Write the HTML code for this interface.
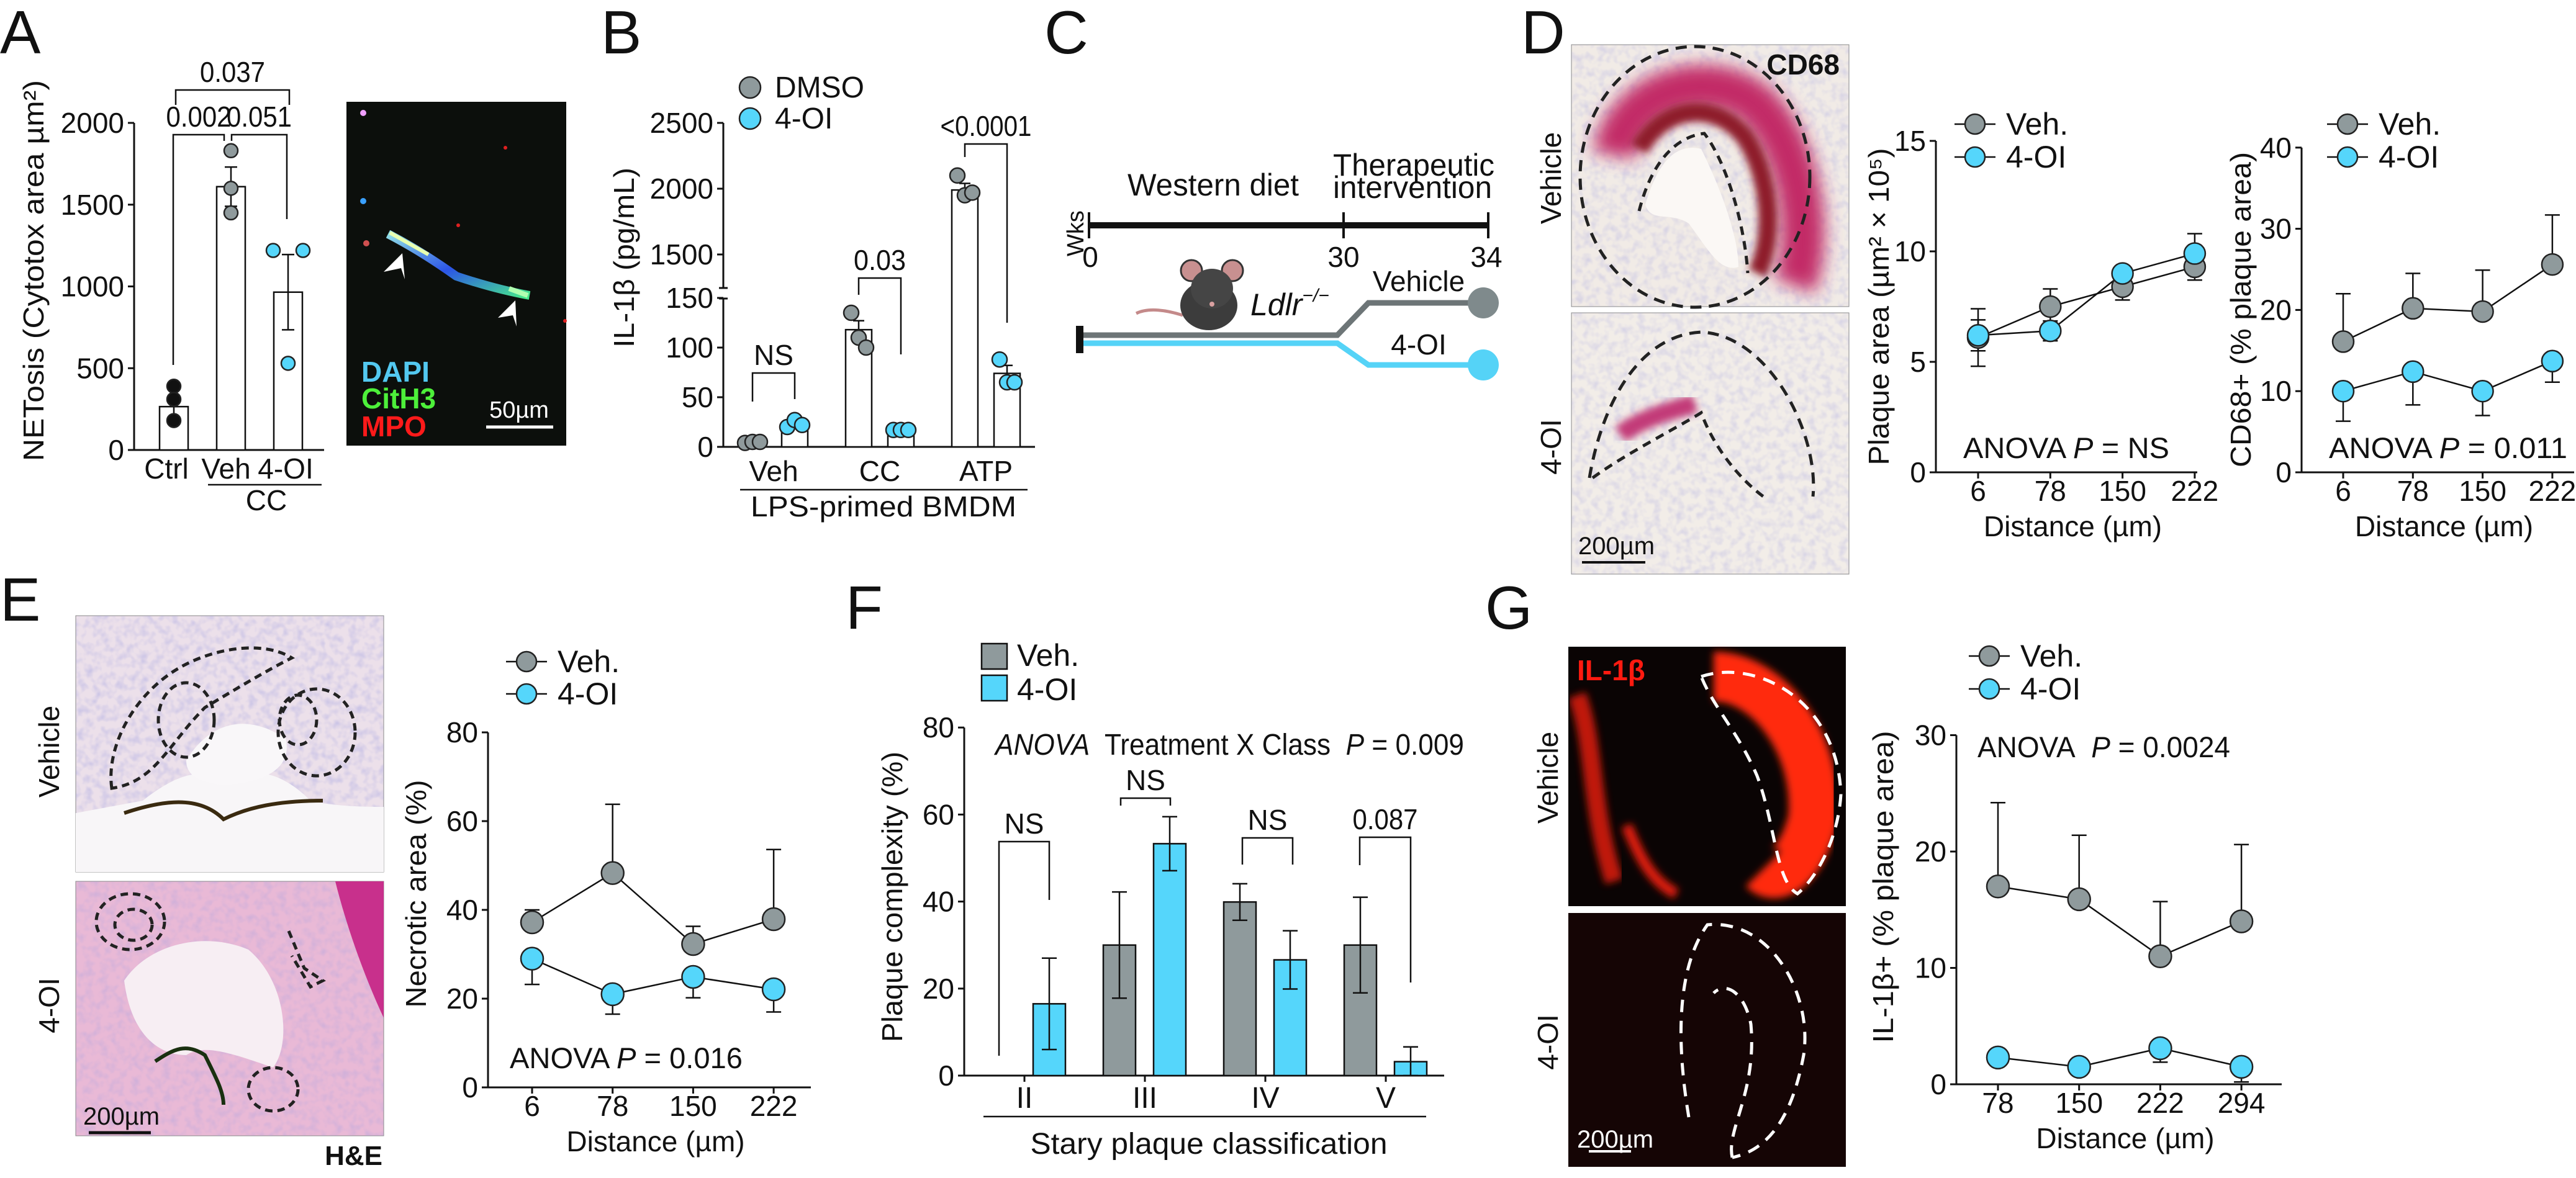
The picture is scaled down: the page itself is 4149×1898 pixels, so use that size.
<!DOCTYPE html>
<html><head><meta charset="utf-8">
<style>
html,body{margin:0;padding:0;background:#fff;}
svg{display:block;}
text{font-family:"Liberation Sans",sans-serif;fill:#111;}
.b{font-weight:bold;}
</style></head>
<body>
<svg id="fig" xmlns="http://www.w3.org/2000/svg" width="4149" height="1898" viewBox="0 0 4149 1898">
<defs>
<filter id="blur6" x="-20%" y="-20%" width="140%" height="140%"><feGaussianBlur stdDeviation="6"/></filter>
<filter id="blur14" x="-30%" y="-30%" width="160%" height="160%"><feGaussianBlur stdDeviation="14"/></filter>
<filter id="speck" x="0" y="0" width="100%" height="100%"><feTurbulence type="fractalNoise" baseFrequency="0.08" numOctaves="2" seed="3"/><feColorMatrix values="0 0 0 0 0.35  0 0 0 0 0.35  0 0 0 0 0.75  0 0 0 -2.2 1.3"/></filter>
<linearGradient id="net" x1="0" y1="0" x2="1" y2="1"><stop offset="0" stop-color="#9ff6ff"/><stop offset="0.5" stop-color="#2f5cff"/><stop offset="1" stop-color="#4dff9a"/></linearGradient>
</defs>

<text x="0" y="86" font-size="98">A</text>
<text x="968" y="86" font-size="98">B</text>
<text x="1682" y="86" font-size="98">C</text>
<text x="2450" y="86" font-size="98">D</text>
<text x="0" y="1000" font-size="98">E</text>
<text x="1362" y="1013" font-size="98">F</text>
<text x="2392" y="1013" font-size="98">G</text>

<g>
<rect x="558" y="164" width="354" height="554" fill="#0c0f0c"/>
<circle cx="585" cy="182" r="5" fill="#f0a0ff"/><circle cx="814" cy="238" r="3" fill="#e02020"/><circle cx="738" cy="363" r="3" fill="#e02020"/>
<circle cx="585" cy="324" r="5" fill="#3aa0ff"/><circle cx="590" cy="392" r="5" fill="#d05050"/><circle cx="910" cy="517" r="3" fill="#e02020"/>
<path d="M625,377 C660,395 700,420 735,445 C780,460 820,470 853,476" stroke="url(#net)" stroke-width="14" fill="none" opacity="0.9"/>
<path d="M628,375 L690,410" stroke="#e8ffb0" stroke-width="6"/><path d="M820,465 L850,476" stroke="#b0ffb0" stroke-width="8"/>
<path d="M648,408 L618,438 L646,432 L652,450 Z" fill="#fff"/><path d="M830,484 L802,512 L826,508 L832,526 Z" fill="#fff"/>
<text x="582" y="615" font-size="46" class="b" style="fill:#53c8f0">DAPI</text>
<text x="582" y="658" font-size="46" class="b" style="fill:#4df03a">CitH3</text>
<text x="582" y="703" font-size="46" class="b" style="fill:#ff1a1a">MPO</text>
<line x1="783" y1="688" x2="891" y2="688" stroke="#fff" stroke-width="5"/>
<text x="836" y="673" font-size="38" text-anchor="middle" style="fill:#fff">50µm</text>
</g>

<g>
<text x="1954" y="315" font-size="50" text-anchor="middle" textLength="276" lengthAdjust="spacingAndGlyphs">Western diet</text>
<text x="2277" y="283" font-size="50" text-anchor="middle" textLength="260" lengthAdjust="spacingAndGlyphs">Therapeutic</text>
<text x="2275" y="319" font-size="50" text-anchor="middle" textLength="256" lengthAdjust="spacingAndGlyphs">intervention</text>
<line x1="1754" y1="363" x2="2397" y2="363" stroke="#111" stroke-width="10"/>
<line x1="1754" y1="342" x2="1754" y2="384" stroke="#111" stroke-width="4"/>
<line x1="2164" y1="342" x2="2164" y2="384" stroke="#111" stroke-width="4"/>
<line x1="2397" y1="342" x2="2397" y2="384" stroke="#111" stroke-width="4"/>
<text x="1756" y="430" font-size="46" text-anchor="middle">0</text>
<text x="2164" y="430" font-size="46" text-anchor="middle">30</text>
<text x="2394" y="430" font-size="46" text-anchor="middle">34</text>
<text transform="translate(1733,376) rotate(-90)" font-size="38" text-anchor="middle" dominant-baseline="central">Wks</text>
<g>
<path d="M1905,508 C1880,500 1850,495 1830,505" stroke="#c48a8a" stroke-width="5" fill="none"/>
<ellipse cx="1947" cy="492" rx="46" ry="40" fill="#3c3c3c"/>
<circle cx="1919" cy="436" r="17" fill="#c89090" stroke="#333" stroke-width="3"/>
<circle cx="1985" cy="436" r="17" fill="#c89090" stroke="#333" stroke-width="3"/>
<ellipse cx="1952" cy="465" rx="34" ry="32" fill="#454545"/>
<circle cx="1952" cy="490" r="4" fill="#d9a0a0"/>
</g>
<text x="2014" y="508" font-size="50" font-style="italic">Ldlr<tspan font-size="30" dy="-22">−/−</tspan></text>
<path d="M1739,540 L2154,540 L2204,488 L2389,488" stroke="#6d7577" stroke-width="9" fill="none"/>
<circle cx="2389" cy="488" r="25" fill="#7f8a8c"/>
<path d="M1739,553 L2154,553 L2204,588 L2389,588" stroke="#55d3f7" stroke-width="9" fill="none"/>
<circle cx="2389" cy="588" r="25" fill="#55d3f7"/>
<rect x="1733" y="525" width="12" height="44" fill="#111"/>
<text x="2285" y="469" font-size="46" text-anchor="middle">Vehicle</text>
<text x="2285" y="571" font-size="46" text-anchor="middle">4-OI</text>
</g>

<g>
<rect x="2531" y="72" width="447" height="422" fill="#f1ebe6" stroke="#888" stroke-width="1"/>
<rect x="2531" y="72" width="447" height="422" filter="url(#speck)" opacity="0.3"/>
<path d="M2600,250 C2620,140 2760,110 2830,170 C2900,240 2920,380 2890,460" stroke="#c22a66" stroke-width="70" fill="none" filter="url(#blur14)"/>
<path d="M2640,240 C2680,170 2760,160 2810,220 C2850,280 2860,380 2830,440" stroke="#8e1a2c" stroke-width="30" fill="none" filter="url(#blur6)"/>
<path d="M2650,330 C2670,260 2700,230 2740,240 C2770,300 2800,380 2800,430 C2770,440 2750,400 2720,360 C2690,340 2660,360 2650,330Z" fill="#fbf8f5"/>
<ellipse cx="2730" cy="285" rx="185" ry="210" fill="none" stroke="#222" stroke-width="5" stroke-dasharray="18 12"/>
<path d="M2640,340 C2660,260 2700,220 2745,215 C2780,260 2810,360 2815,440" fill="none" stroke="#222" stroke-width="5" stroke-dasharray="14 10"/>
<text x="2963" y="120" font-size="46" class="b" text-anchor="end">CD68</text>
</g>
<g>
<rect x="2531" y="504" width="447" height="421" fill="#f2ede8" stroke="#888" stroke-width="1"/>
<rect x="2531" y="504" width="447" height="421" filter="url(#speck)" opacity="0.3"/>
<path d="M2610,700 C2650,670 2700,660 2730,650" stroke="#c23a78" stroke-width="30" fill="none" filter="url(#blur6)"/>
<path d="M2560,770 C2580,650 2640,540 2740,535 C2850,540 2930,700 2920,800" fill="none" stroke="#222" stroke-width="5" stroke-dasharray="18 12"/>
<path d="M2565,770 C2620,730 2700,690 2740,665 C2760,720 2800,770 2840,800" fill="none" stroke="#222" stroke-width="5" stroke-dasharray="14 10"/>
<line x1="2548" y1="906" x2="2650" y2="906" stroke="#111" stroke-width="4"/>
<text x="2542" y="893" font-size="40">200µm</text>
</g>
<text transform="translate(2498,287) rotate(-90)" font-size="46" text-anchor="middle" dominant-baseline="central">Vehicle</text>
<text transform="translate(2498,720) rotate(-90)" font-size="46" text-anchor="middle" dominant-baseline="central">4-OI</text>

<g>
<rect x="122" y="992" width="496" height="413" fill="#ece0ea" stroke="#888" stroke-width="1"/>
<rect x="122" y="992" width="496" height="413" filter="url(#speck)" opacity="0.4"/>
<path d="M230,1290 C280,1250 330,1230 360,1265 C390,1240 440,1230 500,1290 C540,1300 600,1300 618,1300 L618,1405 L122,1405 L122,1310 Z" fill="#f8f6f8"/>
<path d="M300,1225 C340,1160 400,1150 460,1190 C470,1230 440,1260 360,1265 C320,1260 300,1250 300,1225Z" fill="#f9f7f9"/>
<path d="M180,1270 C170,1200 220,1110 300,1070 C360,1040 430,1035 470,1060 C430,1080 380,1110 330,1140 C270,1200 250,1260 180,1270Z" fill="none" stroke="#222" stroke-width="5" stroke-dasharray="12 8"/>
<ellipse cx="300" cy="1160" rx="45" ry="60" fill="none" stroke="#222" stroke-width="5" stroke-dasharray="12 8"/>
<ellipse cx="510" cy="1180" rx="62" ry="70" fill="none" stroke="#222" stroke-width="5" stroke-dasharray="12 8"/>
<ellipse cx="480" cy="1160" rx="30" ry="40" fill="none" stroke="#222" stroke-width="5" stroke-dasharray="12 8"/>
<path d="M200,1310 C260,1290 320,1280 360,1320 C400,1300 450,1290 520,1290" stroke="#3a2a10" stroke-width="6" fill="none"/>
</g>
<g>
<rect x="122" y="1420" width="496" height="410" fill="#e9b9d6" stroke="#888" stroke-width="1"/>
<rect x="122" y="1420" width="496" height="410" filter="url(#speck)" opacity="0.3"/>
<path d="M540,1420 L618,1420 L618,1640 C590,1580 560,1500 540,1420Z" fill="#c8308c"/>
<path d="M200,1580 C240,1520 330,1500 400,1530 C460,1580 470,1680 440,1720 C380,1700 330,1680 300,1700 C250,1700 210,1660 200,1580Z" fill="#f7eef3"/>
<path d="M250,1710 C280,1690 300,1680 330,1700 C350,1740 360,1760 360,1780" stroke="#1a3010" stroke-width="6" fill="none"/>
<ellipse cx="210" cy="1485" rx="55" ry="45" fill="none" stroke="#222" stroke-width="5" stroke-dasharray="12 8"/>
<ellipse cx="215" cy="1490" rx="30" ry="25" fill="none" stroke="#222" stroke-width="5" stroke-dasharray="12 8"/>
<path d="M465,1500 L490,1560 L520,1580 L500,1590 L470,1540" fill="none" stroke="#222" stroke-width="5" stroke-dasharray="12 8"/>
<ellipse cx="440" cy="1755" rx="40" ry="35" fill="none" stroke="#222" stroke-width="5" stroke-dasharray="12 8"/>
<line x1="143" y1="1825" x2="243" y2="1825" stroke="#111" stroke-width="5"/>
<text x="134" y="1812" font-size="40">200µm</text>
</g>
<text x="616" y="1877" font-size="44" class="b" text-anchor="end">H&amp;E</text>
<text transform="translate(79,1211) rotate(-90)" font-size="46" text-anchor="middle" dominant-baseline="central">Vehicle</text>
<text transform="translate(79,1620) rotate(-90)" font-size="46" text-anchor="middle" dominant-baseline="central">4-OI</text>

<g>
<rect x="2526" y="1042" width="447" height="418" fill="#0a0404"/>
<path d="M2760,1090 C2850,1090 2930,1200 2920,1320 C2900,1400 2860,1420 2840,1400" stroke="#ff2a10" stroke-width="80" fill="none" filter="url(#blur6)"/>
<path d="M2540,1120 C2570,1200 2560,1300 2600,1420" stroke="#e01e0e" stroke-width="30" fill="none" filter="url(#blur6)" opacity="0.85"/>
<path d="M2620,1330 C2640,1380 2660,1420 2700,1440" stroke="#e01e0e" stroke-width="18" fill="none" filter="url(#blur6)"/>
<path d="M2740,1090 C2830,1060 2960,1130 2965,1280 C2960,1360 2920,1420 2895,1440 C2860,1420 2860,1330 2830,1250 C2800,1180 2760,1140 2740,1090Z" fill="none" stroke="#fff" stroke-width="5" stroke-dasharray="20 14"/>
<text x="2540" y="1096" font-size="46" class="b" style="fill:#ff1a10">IL-1β</text>
</g>
<g>
<rect x="2526" y="1471" width="447" height="409" fill="#150505"/>
<path d="M2720,1800 C2700,1680 2700,1560 2750,1490 C2850,1480 2920,1600 2905,1700 C2890,1780 2860,1850 2790,1865" fill="none" stroke="#fff" stroke-width="5" stroke-dasharray="20 14"/>
<path d="M2790,1865 C2780,1820 2830,1760 2820,1650 C2810,1600 2780,1580 2760,1600" fill="none" stroke="#fff" stroke-width="5" stroke-dasharray="20 14"/>
<line x1="2559" y1="1855" x2="2627" y2="1855" stroke="#fff" stroke-width="4"/>
<text x="2540" y="1849" font-size="40" style="fill:#fff">200µm</text>
</g>
<text transform="translate(2493,1253) rotate(-90)" font-size="46" text-anchor="middle" dominant-baseline="central">Vehicle</text>
<text transform="translate(2493,1679) rotate(-90)" font-size="46" text-anchor="middle" dominant-baseline="central">4-OI</text>
</svg>

<script>
const NS='http://www.w3.org/2000/svg';
const svg=document.getElementById('fig');
const GRAY='#8f9a9c', CYAN='#55d6fb';

// ---- Panel A data
const aCats=['Ctrl','Veh','4-OI'];
const aMeans=[265,1610,965];
const aSem=[65,120,230];
const aPts=[[390,310,180],[1830,1600,1450],[1220,1220,530]];
const aTicks=[0,500,1000,1500,2000];
// ---- Panel B data
const bCats=['Veh','CC','ATP'];
const bDmso=[5,118,1990];
const bDmsoSem=[1,9,50];
const bDmsoPts=[[4,5,5],[135,110,100],[2100,1950,1970]];
const bOi=[22,17,74];
const bOiSem=[2,1,8];
const bOiPts=[[20,27,22],[17,17,17],[88,65,65]];
const bTicksLow=[0,50,100,150];
const bTicksHigh=[1500,2000,2500];
// ---- Panel D data
const distD=['6','78','150','222'];
const d1Veh=[6.1,7.5,8.4,9.3];
const d1VehErr=[1.3,0.8,0.6,0.6];
const d1Oi=[6.2,6.4,9.0,9.9];
const d1OiErr=[0.7,0.45,0.3,0.9];
const d1Ticks=[0,5,10,15];
const d2Veh=[16.1,20.2,19.8,25.6];
const d2VehErr=[5.9,4.3,5.1,6.1];
const d2Oi=[10.0,12.4,10.0,13.7];
const d2OiErr=[3.7,4.1,3.0,2.6];
const d2Ticks=[0,10,20,30,40];
// ---- Panel E data
const distE=['6','78','150','222'];
const eVeh=[37.2,48.3,32.3,37.9];
const eVehErr=[2.8,15.5,4.0,15.7];
const eOi=[29.0,21.0,24.9,22.1];
const eOiErr=[5.8,4.5,4.7,5.1];
const eTicks=[0,20,40,60,80];
// ---- Panel F data
const fCats=['II','III','IV','V'];
const fVeh=[0,30,39.9,30];
const fVehErr=[0,12.2,4.2,11];
const fOi=[16.5,53.3,26.6,3.2];
const fOiErr=[10.5,6.2,6.7,3.4];
const fTicks=[0,20,40,60,80];
const fSig=['NS','NS','NS','0.087'];
// ---- Panel G data
const distG=['78','150','222','294'];
const gVeh=[17.0,15.9,11.0,14.0];
const gVehErr=[7.2,5.5,4.7,6.6];
const gOi=[2.3,1.5,3.1,1.5];
const gOiErr=[0.3,0.3,1.2,1.3];
const gTicks=[0,10,20,30];

function mk(tag,attrs,txt){const e=document.createElementNS(NS,tag);for(const k in attrs)e.setAttribute(k,attrs[k]);if(txt!==undefined)e.textContent=txt;svg.appendChild(e);return e;}
function ln(x1,y1,x2,y2,w,name){const e=mk('line',{x1:x1,y1:y1,x2:x2,y2:y2,stroke:'#111','stroke-width':w||3});


return e;}
function tx(x,y,s,size,anchor,name,extra){const a={x:x,y:y,'font-size':size||46,'text-anchor':anchor||'middle'};if(extra)for(const k in extra)a[k]=extra[k];const e=mk('text',a,s);


return e;}
function ytitle(cx,cy,s,len,name){const e=mk('text',{transform:'translate('+cx+','+cy+') rotate(-90)','font-size':46,'text-anchor':'middle','dominant-baseline':'central',textLength:len,lengthAdjust:'spacingAndGlyphs'},s);


return e;}
function dot(cx,cy,r,fill,name){const e=mk('circle',{cx:cx,cy:cy,r:r,fill:fill,stroke:'#222','stroke-width':2.5});


return e;}
function errbar(x,y1,y2,cap,name){ln(x,y1,x,y2,2.5,name);ln(x-cap,y2,x+cap,y2,2.5,name+'-cap');}
function yaxis(x,yTop,yBot,ticks,yf,name){ln(x,yTop,x,yBot,3,name);ticks.forEach(t=>{ln(x-10,yf(t),x,yf(t),3,name+'-tick');tx(x-16,yf(t)+16,String(t),46,'end',name+'-tick-label');});}
function bracket(x1,x2,yTop,y1,y2,label,name){const p=mk('path',{d:'M'+x1+','+y1+' L'+x1+','+yTop+' L'+x2+','+yTop+' L'+x2+','+y2,fill:'none',stroke:'#111','stroke-width':2.5});


const ex=label.length>=4?{textLength:label.length*21,lengthAdjust:'spacingAndGlyphs'}:{};
tx((x1+x2)/2,yTop-13,label,46,'middle',name+'-label',ex);}

// ================= Panel A
const yA=v=>725-v*0.2635;
const xA=i=>280+i*92;
yaxis(216,yA(2000),725,aTicks,yA,'a-y-axis');
ln(216,725,522,725,3,'a-x-axis');
const aColors=['#111',GRAY,CYAN];
aCats.forEach((c,i)=>{
  const r=mk('rect',{x:xA(i)-23,y:yA(aMeans[i]),width:46,height:725-yA(aMeans[i]),fill:'#fff',stroke:'#111','stroke-width':2.5});
  
  
  errbar(xA(i),yA(aMeans[i]),yA(aMeans[i]+aSem[i]),10,'a-error-'+c.toLowerCase());
  errbar(xA(i),yA(aMeans[i]),yA(aMeans[i]-aSem[i]),10,'a-error-low-'+c.toLowerCase());
  aPts[i].forEach((v,j)=>{const off=i===2?[-24,24,0][j]:0;dot(xA(i)+off,yA(v),11,aColors[i],'a-point-'+c.toLowerCase());});
  tx(xA(i)-12+i*4,771,c,46,'middle','a-x-label-'+c.toLowerCase());
});
ln(335,781,518,781,2.5,'a-cc-underline');
tx(429,822,'CC',46,'middle','a-cc-label');
bracket(279,361,217,588,227,'0.002','a-sig-ctrl-veh');
bracket(373,462,217,227,353,'0.051','a-sig-veh-4oi');
bracket(283,466,145,169,169,'0.037','a-sig-ctrl-4oi');
ytitle(54,436,'NETosis (Cytotox area µm²)',614,'a-y-title');

// ================= Panel B
const yB=v=>v<=150?720-v*1.6:410-(v-1500)*0.212;
const xB=i=>1246+i*171;
ln(1165,198,1165,464,3,'b-y-axis-upper');
ln(1165,481,1165,720,3,'b-y-axis-lower');
ln(1158,464,1172,464,3,'b-axis-break');ln(1158,481,1172,481,3,'b-axis-break');
bTicksHigh.forEach(t=>{ln(1155,yB(t),1165,yB(t),3,'b-tick');tx(1149,yB(t)+16,String(t),46,'end','b-tick-label');});
bTicksLow.forEach(t=>{ln(1155,yB(t),1165,yB(t),3,'b-tick');tx(1149,yB(t)+16,String(t),46,'end','b-tick-label');});
ln(1165,720,1667,720,3,'b-x-axis');
bCats.forEach((c,i)=>{
  [[bDmso,bDmsoSem,bDmsoPts,GRAY,-34,'dmso'],[bOi,bOiSem,bOiPts,CYAN,34,'4oi']].forEach(s=>{
    const cx=xB(i)+s[4], v=s[0][i];
    const r=mk('rect',{x:cx-21,y:yB(v),width:42,height:720-yB(v),fill:'#fff',stroke:'#111','stroke-width':2.5});
    
    
    errbar(cx,yB(v),yB(v+s[1][i]),9,'b-error-'+s[5]);
    errbar(cx,yB(v),yB(v-s[1][i]),9,'b-error-low-'+s[5]);
    s[2][i].forEach((p,j)=>dot(cx+[-12,0,12][j],yB(p),12,s[3],'b-point-'+s[5]));
  });
  tx(xB(i),775,c,46,'middle','b-x-label-'+c.toLowerCase());
});
ln(1192,789,1655,789,2.5,'b-group-underline');
tx(1423,832,'LPS-primed BMDM',46,'middle','b-group-label',{textLength:428,lengthAdjust:'spacingAndGlyphs'});
bracket(xB(0)-34,xB(0)+34,601,647,643,'NS','b-sig-veh');
bracket(xB(1)-34,xB(1)+34,448,475,571,'0.03','b-sig-cc');
bracket(xB(2)-34,xB(2)+34,232,253,520,'<0.0001','b-sig-atp');
ytitle(1005,415,'IL-1β (pg/mL)',290,'b-y-title');
dot(1208,141,17,GRAY,'b-legend-dmso-marker');tx(1248,157,'DMSO',48,'start','b-legend-dmso');
dot(1208,191,17,CYAN,'b-legend-4oi-marker');tx(1248,207,'4-OI',48,'start','b-legend-4oi');

// ================= Line chart helper
function lineChart(p,cats,veh,vehErr,oi,oiErr,ticks,vehDir,oiDir){
  const xs=i=>p.x0+p.first+i*p.step;
  const ys=v=>p.yBase-v*p.k;
  yaxis(p.x0,ys(ticks[ticks.length-1]),p.yBase,ticks,ys,p.name+'-y-axis');
  ln(p.x0,p.yBase,p.x1,p.yBase,3,p.name+'-x-axis');
  cats.forEach((c,i)=>{ln(xs(i),p.yBase,xs(i),p.yBase+10,3,p.name+'-x-tick');tx(xs(i),p.yBase+46,c,46,'middle',p.name+'-x-tick-label');});
  tx((p.x0+p.x1)/2+10,p.yBase+103,'Distance (µm)',46,'middle',p.name+'-x-title');
  [[veh,GRAY,'veh'],[oi,CYAN,'4oi']].forEach(s=>{
    const path=s[0].map((v,i)=>(i?'L':'M')+xs(i)+','+ys(v)).join(' ');
    const pl=mk('path',{d:path,fill:'none',stroke:'#111','stroke-width':2.5});
    
    
  });
  [[veh,vehErr,vehDir,'veh'],[oi,oiErr,oiDir,'4oi']].forEach(s=>{
    s[0].forEach((v,i)=>{
      if(s[2]!=='down')errbar(xs(i),ys(v),ys(v+s[1][i]),12,p.name+'-error-'+s[3]);
      if(s[2]!=='up')errbar(xs(i),ys(v),ys(v-s[1][i]),12,p.name+'-error-'+s[3]);
    });
  });
  [[veh,GRAY,'veh'],[oi,CYAN,'4oi']].forEach(s=>{s[0].forEach((v,i)=>dot(xs(i),ys(v),p.r,s[1],p.name+'-point-'+s[2]));});
  [['Veh.',GRAY,0],['4-OI',CYAN,1]].forEach(l=>{
    const ly=p.legY+l[2]*p.legGap;
    ln(p.legX-33,ly,p.legX+33,ly,2.5,p.name+'-legend-line');
    dot(p.legX,ly,16,l[1],p.name+'-legend-marker');
    tx(p.legX+50,ly+17,l[0],50,'start',p.name+'-legend-'+(l[2]?'4oi':'veh'));
  });
}

// ================= Panel D
lineChart({name:'d1',x0:3118,x1:3539,first:68,step:116.3,yBase:761,k:35.6,r:17,legX:3181,legY:200,legGap:53},distD,d1Veh,d1VehErr,d1Oi,d1OiErr,d1Ticks,'both','both');
const t1=tx(3162,738,'',47,'start','d1-anova-text',{textLength:332,lengthAdjust:'spacingAndGlyphs'});
t1.innerHTML='ANOVA <tspan font-style="italic">P</tspan> = NS';
ytitle(3026,494,'Plaque area (µm² × 10⁵)',511,'d1-y-title');
lineChart({name:'d2',x0:3707,x1:4146,first:67,step:112.3,yBase:761,k:13.08,r:17,legX:3781,legY:200,legGap:53},distD,d2Veh,d2VehErr,d2Oi,d2OiErr,d2Ticks,'up','down');
const t2=tx(3751,738,'',47,'start','d2-anova-text',{textLength:384,lengthAdjust:'spacingAndGlyphs'});
t2.innerHTML='ANOVA <tspan font-style="italic">P</tspan> = 0.011';
ytitle(3609,499,'CD68+ (% plaque area)',508,'d2-y-title');

// ================= Panel E
lineChart({name:'e',x0:786,x1:1306,first:71,step:129.7,yBase:1752,k:7.15,r:18,legX:848,legY:1066,legGap:52},distE,eVeh,eVehErr,eOi,eOiErr,eTicks,'up','down');
const t3=tx(821,1721,'',47,'start','e-anova-text',{textLength:375,lengthAdjust:'spacingAndGlyphs'});
t3.innerHTML='ANOVA <tspan font-style="italic">P</tspan> = 0.016';
ytitle(670,1440,'Necrotic area (%)',367,'e-y-title');

// ================= Panel G
lineChart({name:'g',x0:3151,x1:3675,first:67,step:130.7,yBase:1747,k:18.75,r:18,legX:3204,legY:1057,legGap:53},distG,gVeh,gVehErr,gOi,gOiErr,gTicks,'up','down');
const t4=tx(3185,1220,'',47,'start','g-anova-text',{textLength:407,lengthAdjust:'spacingAndGlyphs'});
t4.innerHTML='ANOVA&#160;&#160;<tspan font-style="italic">P</tspan> = 0.0024';
ytitle(3033,1429,'IL-1β+ (% plaque area)',503,'g-y-title');

// ================= Panel F
const yF=v=>1733-v*7.01;
const xF=i=>1650+i*194;
yaxis(1553,yF(80),1733,fTicks,yF,'f-y-axis');
ln(1553,1733,2326,1733,3,'f-x-axis');
fCats.forEach((c,i)=>{
  [[fVeh,fVehErr,GRAY,-41,'veh'],[fOi,fOiErr,CYAN,40,'4oi']].forEach(s=>{
    const cx=xF(i)+s[3], v=s[0][i];
    if(v>0){
      const r=mk('rect',{x:cx-26,y:yF(v),width:52,height:1733-yF(v),fill:s[2],stroke:'#111','stroke-width':2.5});
      
      
      errbar(cx,yF(v),yF(v+s[1][i]),12,'f-error-'+s[4]);
      errbar(cx,yF(v),yF(Math.max(0,v-s[1][i])),12,'f-error-low-'+s[4]);
    }
  });
  ln(xF(i),1733,xF(i),1743,3,'f-x-tick');
  tx(xF(i),1785,c,48,'middle','f-x-label-'+c.toLowerCase());
});
bracket(1609,1690,1356,1701,1450,fSig[0],'f-sig-ii');
bracket(1805,1885,1286,1298,1298,fSig[1],'f-sig-iii');
bracket(2001,2082,1350,1393,1393,fSig[2],'f-sig-iv');
bracket(2190,2272,1349,1394,1583,fSig[3],'f-sig-v');
ln(1584,1799,2297,1799,2.5,'f-group-underline');
tx(1947,1859,'Stary plaque classification',48,'middle','f-x-title',{textLength:575,lengthAdjust:'spacingAndGlyphs'});
const t5=tx(1603,1216,'',48,'start','f-anova-text',{textLength:755,lengthAdjust:'spacingAndGlyphs'});
t5.innerHTML='<tspan font-style="italic">ANOVA</tspan>&#160; Treatment X Class&#160; <tspan font-style="italic">P</tspan> = 0.009';
ytitle(1437,1445,'Plaque complexity (%)',468,'f-y-title');
[['Veh.',GRAY,1037,1073],['4-OI',CYAN,1088,1128]].forEach(l=>{
  const r=mk('rect',{x:1581,y:l[2],width:41,height:41,fill:l[1],stroke:'#111','stroke-width':2.5});
  
  
  tx(1638,l[3],l[0],50,'start','f-legend-label');
});
</script>
</body></html>
